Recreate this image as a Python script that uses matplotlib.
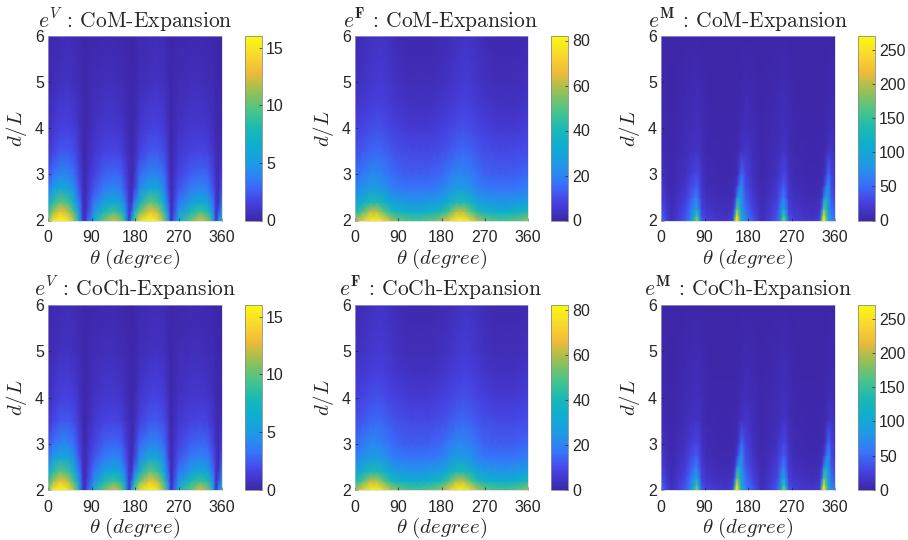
import numpy as np
import matplotlib
matplotlib.use("Agg")
import matplotlib.pyplot as plt
from matplotlib.colors import LinearSegmentedColormap

plt.rcParams['font.family'] = ['Liberation Sans', 'DejaVu Sans']
plt.rcParams['mathtext.fontset'] = 'cm'

# values, rows go with the d lists, columns with the theta lists
theta_v = [0, 10, 25, 40, 55, 65, 72, 76, 82, 95, 115, 135, 150, 160, 168, 173, 178, 190, 210, 225, 240, 250, 255, 260, 270, 295, 315, 330, 342, 348, 353, 360]
d_v = [2, 2.2, 2.4, 2.7, 3, 3.5, 4, 5, 6]
e_v = [
    [10, 14.5, 16, 15, 11.5, 6, 1.5, .4, 2.5, 6.5, 10, 12.5, 11, 7, 1, 5, 9, 14, 16, 15, 11, 4.5, .4, 2.5, 6.5, 10, 12.5, 11, 6, .8, 4, 8],
    [8, 11, 13, 12, 8.5, 4.4, 1, .3, 1.6, 4.4, 7.5, 9, 8, 4.6, 1, 2.2, 6, 10, 13, 12, 8.5, 3.2, .3, 1.6, 4.4, 7.5, 9, 8, 4.2, .8, 1.8, 6],
    [6, 8.2, 10, 9.2, 6.3, 3.2, .9, .25, 1.2, 3.2, 5.2, 6.2, 5.6, 3.4, 1, .6, 3.2, 7, 10, 9.2, 6.3, 2.4, .25, 1.2, 3.2, 5.2, 6.2, 5.6, 3.1, .9, .6, 4.2],
    [3.4, 5, 6, 5.8, 4.2, 2.1, .7, .25, .9, 2.2, 3.5, 4, 3.7, 2.2, .8, .3, 1.3, 4.2, 6, 5.8, 4.2, 1.6, .25, .9, 2.2, 3.5, 4, 3.7, 2.1, .9, .3, 2.5],
    [2.1, 3.2, 4, 4, 3, 1.5, .6, .2, .7, 1.6, 2.6, 2.9, 2.7, 1.6, .7, .3, .8, 2.9, 4, 4, 3, 1.2, .2, .7, 1.6, 2.6, 2.9, 2.7, 1.5, .7, .3, 1.6],
    [1, 1.6, 2.3, 2.4, 1.9, 1, .4, .12, .45, 1, 1.6, 1.7, 1.5, .9, .45, .2, .35, 1.5, 2.3, 2.4, 1.9, .8, .15, .45, 1, 1.6, 1.7, 1.5, .9, .45, .2, .8],
    [.6, 1, 1.5, 1.6, 1.3, .7, .3, .1, .3, .7, 1.1, 1.1, .95, .6, .3, .15, .2, 1, 1.5, 1.6, 1.3, .6, .12, .3, .7, 1.1, 1.1, .95, .6, .3, .15, .4],
    [.2, .4, .65, .75, .6, .4, .2, .08, .2, .4, .5, .5, .4, .3, .15, .1, .1, .45, .65, .75, .6, .3, .08, .2, .4, .5, .5, .4, .3, .15, .1, .15],
    [.1, .2, .35, .45, .35, .2, .1, .05, .1, .18, .2, .2, .15, .1, .05, .05, .08, .25, .35, .45, .35, .15, .05, .1, .18, .2, .2, .15, .1, .05, .05, .08],
]

theta_f = [0, 15, 30, 45, 60, 75, 90, 105, 120, 135, 150, 165, 180, 195, 210, 225, 240, 255, 270, 285, 300, 315, 330, 345, 360]
d_f = [2, 2.2, 2.4, 2.7, 3, 3.5, 4, 4.5, 5, 5.5, 6]
e_f = [
    [58, 68, 78, 80, 72, 60, 53, 50, 48, 48, 50, 52, 58, 68, 78, 80, 72, 60, 53, 50, 48, 48, 50, 52, 58],
    [40, 47, 60, 61, 50, 41, 36, 34, 33, 33, 34, 36, 40, 47, 60, 61, 50, 41, 36, 34, 33, 33, 34, 36, 40],
    [28, 34, 40, 41, 36, 29, 26, 25, 24, 24, 25, 26, 28, 34, 40, 41, 36, 29, 26, 25, 24, 24, 25, 26, 28],
    [20, 23, 26, 26, 24, 20, 18, 17, 17, 17, 17, 18, 20, 23, 26, 26, 24, 20, 18, 17, 17, 17, 17, 18, 20],
    [15, 18, 21, 21, 19, 16, 14, 13, 13, 13, 13, 14, 15, 18, 21, 21, 19, 16, 14, 13, 13, 13, 13, 14, 15],
    [10.5, 12, 14, 15, 14, 12, 10.5, 10, 9.5, 9.5, 9.5, 10, 10.5, 12, 14, 15, 14, 12, 10.5, 10, 9.5, 9.5, 9.5, 10, 10.5],
    [7.5, 8.5, 10, 11, 10, 8.5, 7.5, 6.5, 6, 6, 6, 6.5, 7.5, 8.5, 10, 11, 10, 8.5, 7.5, 6.5, 6, 6, 6, 6.5, 7.5],
    [5, 6, 7, 8, 7.5, 6, 5, 4.2, 3.8, 3.8, 3.8, 4.2, 5, 6, 7, 8, 7.5, 6, 5, 4.2, 3.8, 3.8, 3.8, 4.2, 5],
    [3.4, 4, 5.2, 6, 5.8, 4.6, 3.4, 2.8, 2.5, 2.5, 2.5, 2.8, 3.4, 4, 5.2, 6, 5.8, 4.6, 3.4, 2.8, 2.5, 2.5, 2.5, 2.8, 3.4],
    [2.5, 3.2, 4.2, 5, 5, 4, 2.6, 2, 1.8, 1.8, 1.8, 2, 2.5, 3.2, 4.2, 5, 5, 4, 2.6, 2, 1.8, 1.8, 1.8, 2, 2.5],
    [1.8, 2.5, 3.4, 4, 4, 3, 1.8, 1.2, 1, 1, 1, 1.2, 1.8, 2.5, 3.4, 4, 4, 3, 1.8, 1.2, 1, 1, 1, 1.2, 1.8],
]

theta_m = [0, 12, 22, 35, 50, 62, 70, 74, 79, 85, 95, 115, 135, 148, 153, 157, 161, 166, 175, 190, 208, 225, 240, 250, 254, 259, 265, 275, 295, 315, 328, 333, 337, 341, 346, 353, 360]
d_m = [2, 2.1, 2.25, 2.5, 2.75, 3, 3.5, 4, 4.8, 6]
e_m = [
    [55, 25, 8, 22, 40, 75, 150, 200, 130, 40, 25, 18, 15, 25, 190, 265, 200, 120, 70, 40, 8, 22, 40, 130, 200, 130, 40, 25, 18, 15, 25, 190, 265, 200, 120, 75, 60],
    [45, 22, 8, 20, 36, 65, 125, 160, 90, 32, 22, 15, 12, 20, 130, 240, 180, 110, 62, 34, 8, 20, 36, 105, 160, 90, 32, 22, 15, 12, 20, 130, 240, 180, 110, 62, 50],
    [35, 17, 6, 16, 30, 55, 85, 105, 62, 25, 16, 11, 9, 12, 50, 170, 150, 90, 52, 27, 6, 16, 30, 75, 105, 62, 25, 16, 11, 9, 12, 50, 170, 150, 90, 52, 38],
    [24, 12, 5, 12, 22, 40, 55, 62, 42, 18, 11, 7, 6, 8, 18, 60, 110, 80, 40, 19, 5, 12, 22, 50, 62, 42, 18, 11, 7, 6, 8, 18, 60, 110, 80, 40, 26],
    [17, 9, 4, 9, 16, 30, 38, 42, 32, 14, 8, 5, 4, 5, 8, 20, 45, 75, 32, 14, 4, 9, 16, 34, 42, 32, 14, 8, 5, 4, 5, 8, 20, 45, 75, 32, 18],
    [13, 7, 3, 7, 12, 22, 28, 30, 25, 11, 6, 4, 3, 4, 5, 8, 20, 50, 28, 11, 3, 7, 12, 25, 30, 25, 11, 6, 4, 3, 4, 5, 8, 20, 50, 28, 14],
    [7, 4, 2, 5, 8, 11, 13, 14, 13, 8, 4, 2.5, 2, 2.5, 3, 4, 7, 12, 17, 8, 2, 5, 8, 12, 14, 13, 8, 4, 2.5, 2, 2.5, 3, 4, 7, 12, 16, 8],
    [4, 2.5, 1.5, 3, 5.5, 8, 9, 9.5, 9, 6, 3, 1.5, 1.2, 1.5, 2, 2.5, 4, 6, 9.5, 6.5, 1.5, 3.5, 6, 9, 9.5, 9, 6, 3, 1.5, 1.2, 1.5, 2, 2.5, 4, 6, 9, 5],
    [2, 1.5, 1, 2, 3.5, 5, 5.5, 5.5, 5.5, 4, 2, 1, 1, 1, 1, 1.5, 2, 3, 5.5, 4, 1, 2, 4, 5.5, 5.5, 5.5, 4, 2, 1, 1, 1, 1, 1.5, 2, 3, 5, 2.5],
    [1, 1, 1, 1, 1, 1, 1, 1, 1, 1, 1, 1, 1, 1, 1, 1, 1, 1, 1, 1, 1, 1, 1, 1, 1, 1, 1, 1, 1, 1, 1, 1, 1, 1, 1, 1, 1],
]

parula = LinearSegmentedColormap.from_list('parula', [
    (0.2422, 0.1504, 0.6603), (0.2780, 0.2556, 0.8900), (0.2200, 0.4500, 0.9900),
    (0.1200, 0.6000, 0.9000), (0.0500, 0.6800, 0.8200), (0.1000, 0.7300, 0.7000),
    (0.3000, 0.7700, 0.5300), (0.6000, 0.7500, 0.3300), (0.9300, 0.7300, 0.2200),
    (0.9800, 0.8500, 0.1800), (0.9763, 0.9831, 0.0538)])

W, H = 908, 540
fig = plt.figure(figsize=(W / 100, H / 100), dpi=100)
grey = '#262626'

columns = [
    (48, 222, 245, 262, theta_v, d_v, e_v, 16, [0, 5, 10, 15], r'$e^{V}$', 135),
    (355, 528, 551, 568, theta_f, d_f, e_f, 82, [0, 20, 40, 60, 80], r'$e^{\mathbf{F}}$', 441),
    (661, 835, 858, 875, theta_m, d_m, e_m, 270, [0, 50, 100, 150, 200, 250], r'$e^{\mathbf{M}}$', 748),
]
rows = [(36, 220.5, 'CoM-Expansion'), (305, 490, 'CoCh-Expansion')]

for top, bottom, name in rows:
    for x0, x1, c0, c1, theta, d, vals, vmax, cticks, sym, tx in columns:
        ax = fig.add_axes([x0 / W, 1 - bottom / H, (x1 - x0) / W, (bottom - top) / H])
        mesh = ax.pcolormesh(theta, d, np.array(vals), shading='gouraud', cmap=parula, vmin=0, vmax=vmax, rasterized=True)
        ax.set_xlim(0, 360)
        ax.set_ylim(2, 6)
        ax.set_xticks([0, 90, 180, 270, 360])
        ax.set_yticks([2, 3, 4, 5, 6])
        ax.tick_params(direction='in', length=2, width=0.5, labelsize=11.5, colors=grey)
        ax.tick_params(axis='x', pad=7)
        ax.tick_params(axis='y', pad=3)
        for s in ax.spines.values():
            s.set_linewidth(0.4)
            s.set_color('#c8c8e0')
        ax.set_xlabel(r'$\theta\ (degree)$', fontsize=15, labelpad=1, color=grey)
        ax.set_ylabel(r'$d/L$', fontsize=15, labelpad=4, color=grey)
        fig.text(tx / W, 1 - (top - 9) / H, sym + ' : ' + name, family='cmr10', fontsize=15.5,
                 ha='center', va='baseline', color=grey)

        cax = fig.add_axes([c0 / W, 1 - bottom / H, (c1 - c0) / W, (bottom - top) / H])
        cb = fig.colorbar(mesh, cax=cax)
        cb.set_ticks(cticks)
        cb.ax.tick_params(direction='in', length=2.5, width=0.5, labelsize=11.5, colors=grey, pad=3)
        cb.outline.set_linewidth(0.6)
        cb.outline.set_edgecolor('#8c8c8c')

fig.savefig('out.png', dpi=100)
